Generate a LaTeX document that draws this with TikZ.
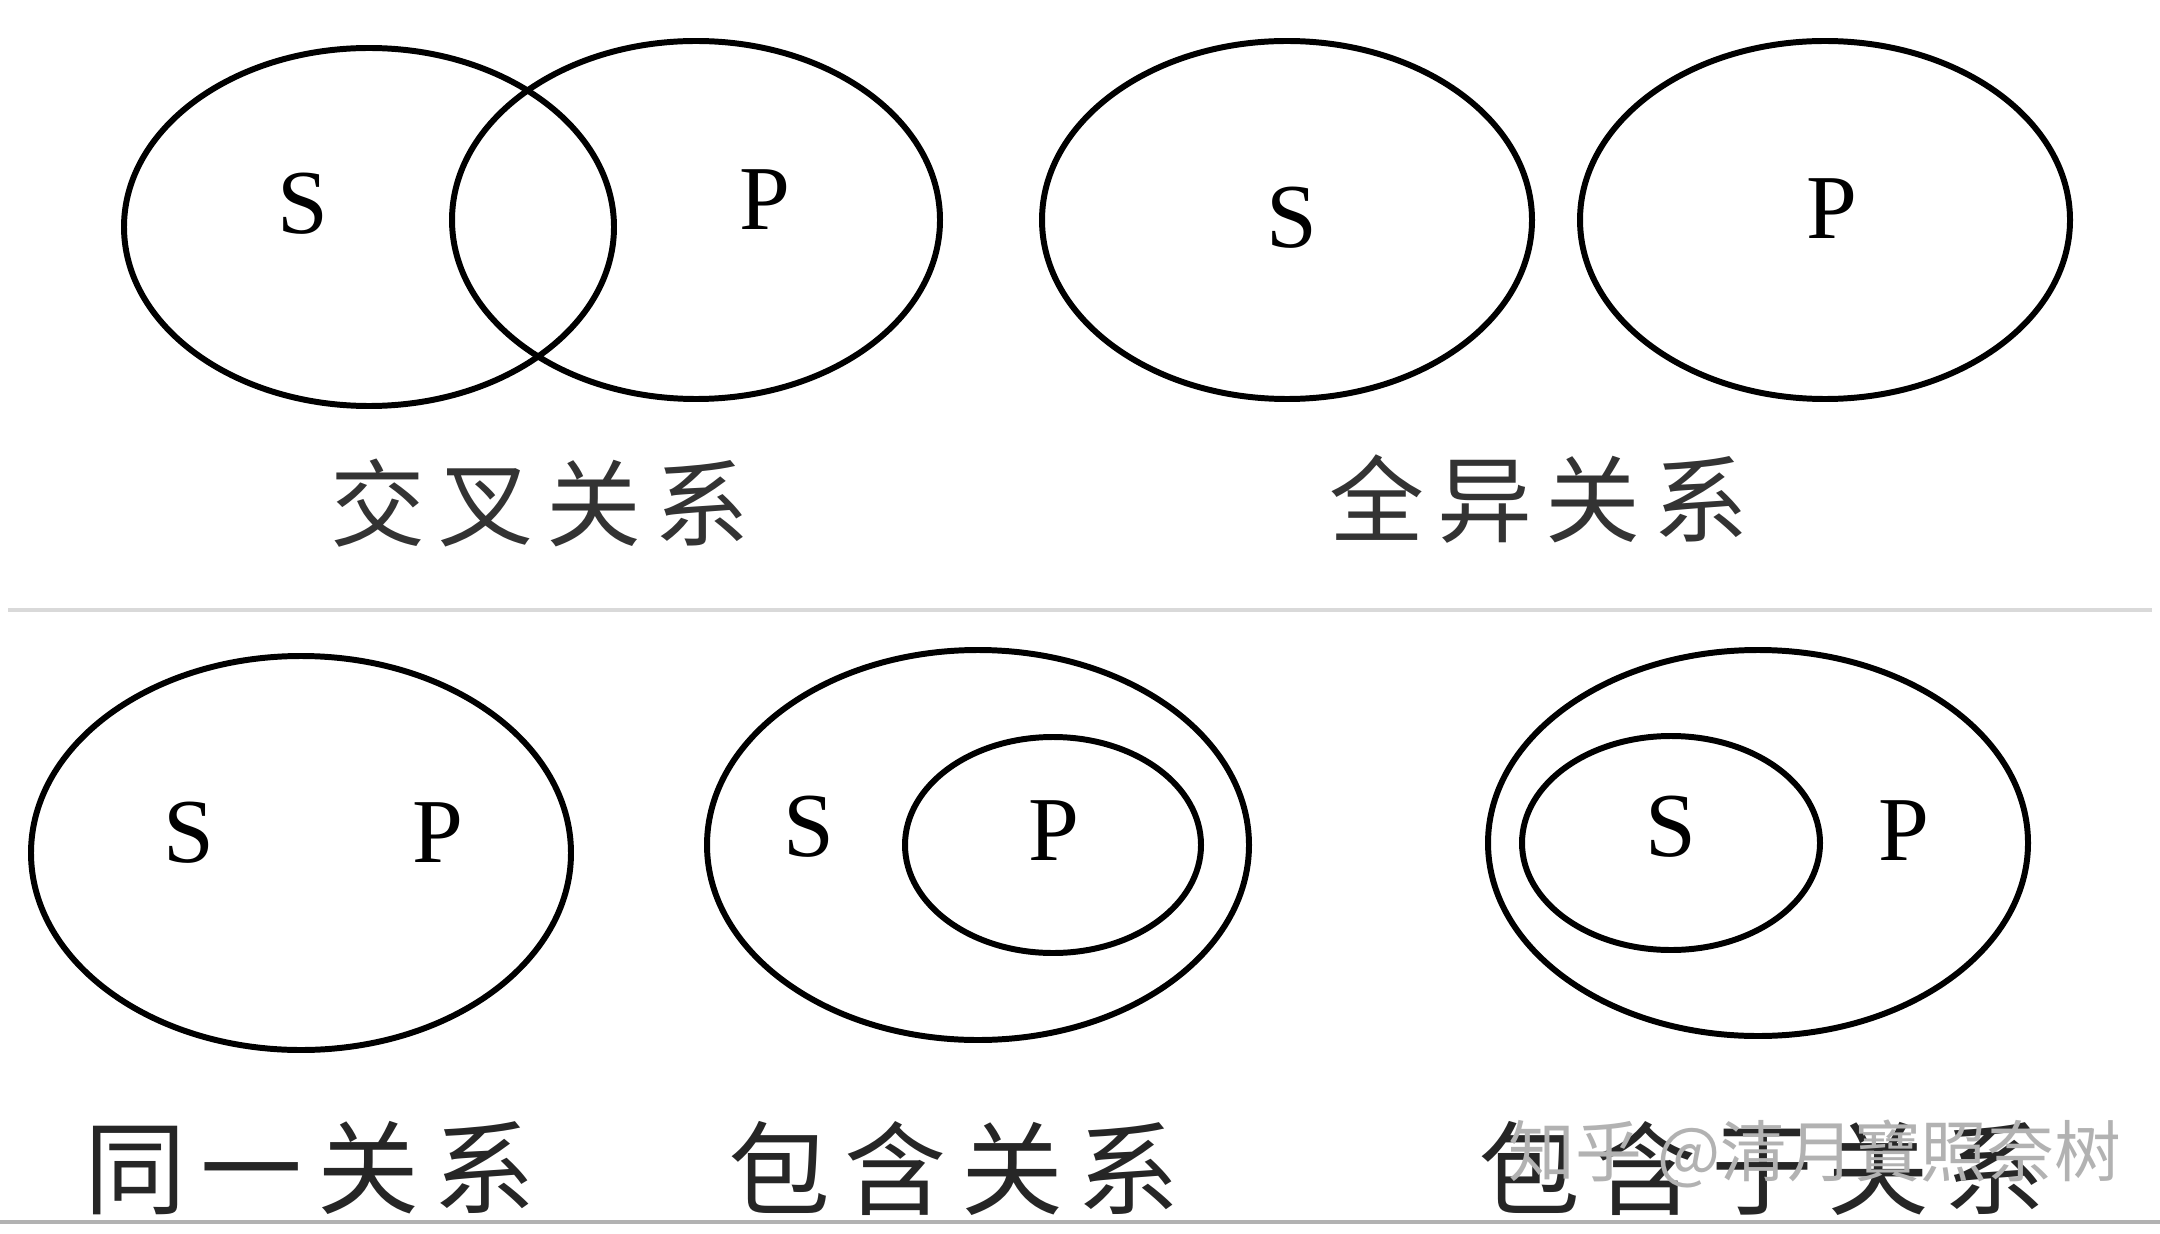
\documentclass[tikz,border=0pt]{standalone}
\usepackage{fontspec}
\setmainfont{Liberation Serif}
\newfontfamily\cjk[LetterSpace=14]{Noto Sans CJK SC}
\newfontfamily\markfont{Noto Sans CJK SC}
\usetikzlibrary{positioning}

\begin{document}
\begin{tikzpicture}[scale=1, every node/.style={inner sep=0pt}]
\tikzset{
    circ/.style={line width=1.7pt},
    letter/.style={font=\fontsize{26pt}{26pt}\selectfont},
    caption/.style={font=\cjk\fontsize{27pt}{27pt}\selectfont, text=black!80},
    bigcaption/.style={font=\cjk\fontsize{29pt}{29pt}\selectfont, text=black!85},
    rule/.style={gray!30, line width=1pt}
}
\useasboundingbox (0,0) rectangle (21.6,-12.33);

% Case 1: intersecting
\draw[circ] (3.69,-2.27) ellipse (2.45 and 1.79);
\draw[circ] (6.96,-2.20) ellipse (2.44 and 1.79);
\node[letter] (s1) at (3.03,-2.04) {S};
\node[letter] (p1) at (7.65,-2.00) {P};
\node[caption] (c1) at (5.40,-5.03) {交叉关系};

% Case 2: disjoint
\draw[circ] (12.87,-2.20) ellipse (2.45 and 1.79);
\draw[circ] (18.25,-2.20) ellipse (2.45 and 1.79);
\node[letter] (s2) at (12.92,-2.18) {S};
\node[letter] (p2) at (18.32,-2.09) {P};
\node[caption] (c2) at (15.39,-4.99) {全异关系};

\draw[rule] (0.08,-6.10) -- (21.52,-6.10);

% Case 3: identical
\draw[circ] (3.01,-8.53) ellipse (2.70 and 1.97);
\node[letter] (s3) at (1.89,-8.33) {S};
\node[letter] (p3) at (4.38,-8.33) {P};
\node[bigcaption] (c3) at (3.10,-11.68) {同一关系};

% Case 4: S contains P
\draw[circ] (9.78,-8.45) ellipse (2.71 and 1.95);
\draw[circ] (10.53,-8.45) ellipse (1.48 and 1.08);
\node[letter] (s4) at (8.09,-8.27) {S};
\node[letter] (p4) at (10.54,-8.31) {P};
\node[bigcaption] (c4) at (9.54,-11.68) {包含关系};

% Case 5: S contained in P
\draw[circ] (17.58,-8.43) ellipse (2.70 and 1.93);
\draw[circ] (16.71,-8.43) ellipse (1.49 and 1.07);
\node[letter] (s5) at (16.71,-8.27) {S};
\node[letter] (p5) at (19.04,-8.31) {P};
\node[bigcaption] (c5) at (17.62,-11.68) {包含于关系};
\node[font=\markfont\fontsize{19pt}{19pt}\selectfont, text=gray!60] (mark) at (18.15,-11.54) {知乎 @清月寶照奈树};

\draw[rule, gray!60] (0,-12.22) -- (21.6,-12.22);
\end{tikzpicture}
\end{document}
